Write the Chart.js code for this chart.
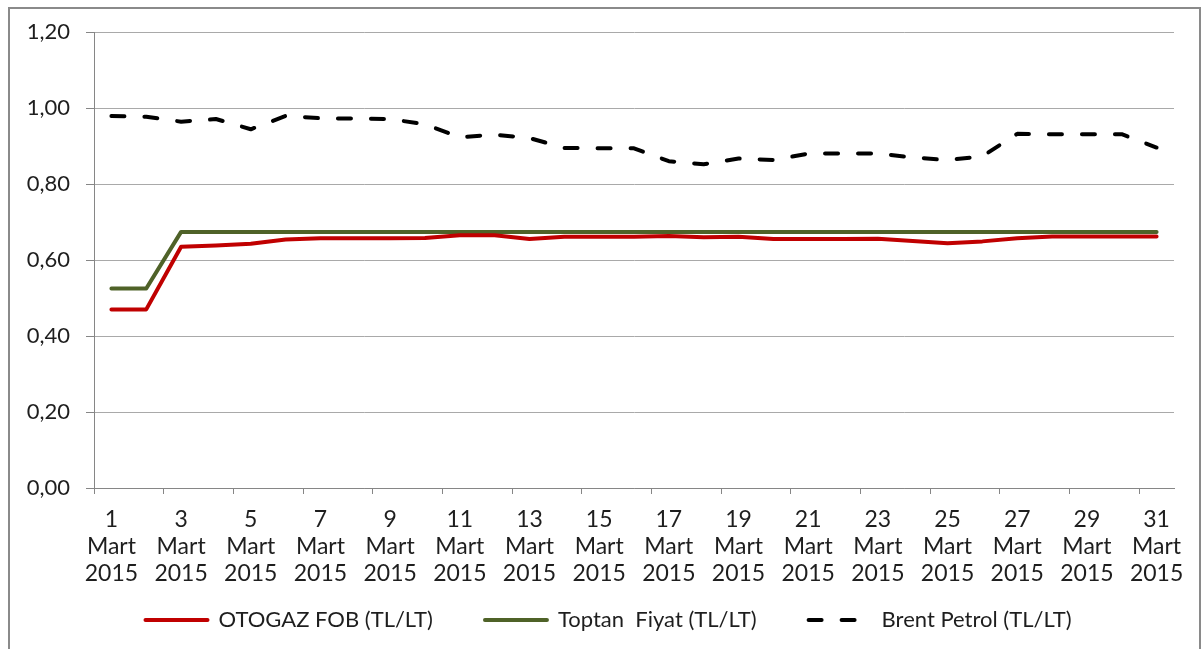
<!DOCTYPE html>
<html>
<head>
<meta charset="utf-8">
<script src="https://cdn.jsdelivr.net/npm/chart.js@4.4.1/dist/chart.umd.min.js"></script>
<style>
  html, body { margin: 0; padding: 0; background: #ffffff; }
  #wrap { position: relative; width: 1203px; height: 649px; overflow: hidden; }
  #frame { position: absolute; left: 8px; top: 7px; width: 1193px; height: 700px; border: 2px solid #8a8a8a; box-sizing: border-box; }
  #c { position: absolute; left: 0; top: 0; }
</style>
</head>
<body>
<div id="wrap">
  <div id="frame"></div>
  <canvas id="c" width="1203" height="649"></canvas>
</div>
<script>
// ---- data ----
const days = [1,2,3,4,5,6,7,8,9,10,11,12,13,14,15,16,17,18,19,20,21,22,23,24,25,26,27,28,29,30,31];
const monthLabel = 'Mart';
const yearLabel = '2015';
const seriesNames = ['OTOGAZ FOB (TL/LT)', 'Toptan  Fiyat (TL/LT)', 'Brent Petrol (TL/LT)'];
const otogazFob = [0.470,0.470,0.635,0.638,0.643,0.654,0.657,0.657,0.657,0.658,0.665,0.665,0.655,0.661,0.661,0.661,0.663,0.660,0.661,0.655,0.655,0.655,0.656,0.650,0.644,0.649,0.657,0.662,0.662,0.662,0.662];
const toptanFiyat = [0.525,0.525,0.674,0.674,0.674,0.674,0.674,0.674,0.674,0.674,0.674,0.674,0.674,0.674,0.674,0.674,0.674,0.674,0.674,0.674,0.674,0.674,0.674,0.674,0.674,0.674,0.674,0.674,0.674,0.674,0.674];
const brentPetrol = [0.979,0.977,0.964,0.971,0.944,0.979,0.973,0.972,0.971,0.957,0.923,0.930,0.921,0.895,0.894,0.894,0.860,0.852,0.867,0.863,0.880,0.880,0.880,0.870,0.863,0.873,0.932,0.931,0.931,0.931,0.896];
const yMin = 0, yMax = 1.2, yStep = 0.2;

// ---- chart ----
const FONT = 'Lato';
const TXT = '#1e1e1e';
const AXIS = '#868686';
const GRID = '#a9a9a9';

const layoutFix = {
  id: 'layoutFix',
  afterLayout(chart) {
    // let the three-line x labels draw below the axis box, and centre the legend like the original
    chart.scales.x.bottom = chart.height;
    chart.legend.left = 43;
    chart.legend.right = 1174;
  }
};

new Chart(document.getElementById('c'), {
  type: 'line',
  data: {
    labels: days.map(String),
    datasets: [
      { label: seriesNames[0], data: otogazFob, borderColor: '#c00000', backgroundColor: '#c00000',
        borderWidth: 4, pointRadius: 0, tension: 0, borderJoinStyle: 'round', borderCapStyle: 'round' },
      { label: seriesNames[1], data: toptanFiyat, borderColor: '#4f6228', backgroundColor: '#4f6228',
        borderWidth: 4, pointRadius: 0, tension: 0, borderJoinStyle: 'round', borderCapStyle: 'round' },
      { label: seriesNames[2], data: brentPetrol, borderColor: '#000000', backgroundColor: '#000000',
        borderWidth: 4, borderDash: [13, 20], pointRadius: 0, tension: 0, borderJoinStyle: 'round', borderCapStyle: 'round' }
    ]
  },
  plugins: [layoutFix],
  options: {
    responsive: false,
    animation: false,
    events: [],
    layout: { padding: { left: 0, right: 29, top: 32, bottom: 8 } },
    plugins: {
      title: { display: false },
      tooltip: { enabled: false },
      legend: {
        position: 'bottom',
        labels: {
          usePointStyle: true,
          pointStyle: 'line',
          pointStyleWidth: 62,
          padding: 52,
          color: TXT,
          font: { family: FONT, size: 22 },
          generateLabels: (chart) => {
            const items = Chart.defaults.plugins.legend.labels.generateLabels(chart);
            items.forEach((it) => {
              const ds = chart.data.datasets[it.datasetIndex];
              it.lineDash = ds.borderDash || [];
              it.lineWidth = ds.borderWidth;
              it.strokeStyle = ds.borderColor;
              it.fillStyle = ds.borderColor;
              it.lineCap = 'round';
              it.pointStyle = 'line';
            });
            return items;
          }
        }
      }
    },
    scales: {
      x: {
        type: 'category',
        offset: true,
        afterFit: (s) => { s.height = 69; },
        grid: {
          offset: true,
          drawOnChartArea: false,
          drawTicks: true,
          tickLength: 6,
          tickColor: (ctx) => (ctx.index % 2 === 0 ? AXIS : 'rgba(0,0,0,0)'),
          tickWidth: 1
        },
        border: { display: true, color: AXIS, width: 1 },
        ticks: {
          autoSkip: false,
          maxRotation: 0,
          minRotation: 0,
          padding: 12,
          color: TXT,
          font: { family: FONT, size: 23, lineHeight: 1.18 },
          callback: (val, idx) => (idx % 2 === 0 ? [String(days[idx]), monthLabel, yearLabel] : '')
        }
      },
      y: {
        min: yMin,
        max: yMax,
        afterFit: (s) => { s.width = 94; },
        grid: { color: GRID, lineWidth: 1, drawTicks: true, tickLength: 8, tickColor: AXIS },
        border: { display: true, color: AXIS, width: 1 },
        ticks: {
          stepSize: yStep,
          padding: 16,
          color: TXT,
          font: { family: FONT, size: 22 },
          callback: (v) => Number(v).toFixed(2).replace('.', ',')
        }
      }
    }
  }
});
</script>
</body>
</html>
